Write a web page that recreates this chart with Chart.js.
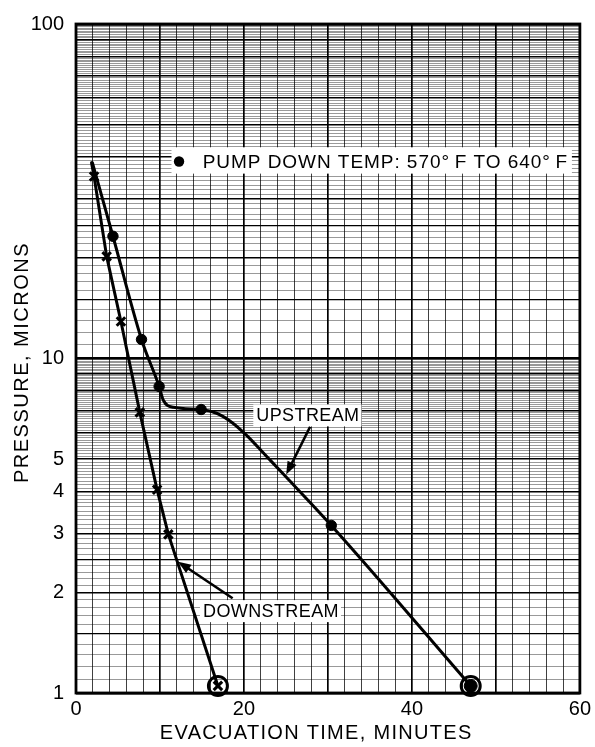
<!DOCTYPE html>
<html><head><meta charset="utf-8">
<script src="https://cdn.jsdelivr.net/npm/chart.js@4"></script>
<style>html,body{margin:0;padding:0;background:#fff;}#wrap{width:595px;height:747px;}</style>
</head><body><div id="wrap"><canvas id="c" width="595" height="747"></canvas></div>
<script>
// ---- data ----
const upstreamTraceX = [1.95, 4.4, 7.8, 9.9, 10.4, 11.6, 14.9, 16.75, 18.53, 20.44, 22.46, 24.63, 30.4, 47.0];
const upstreamTraceY = [38.5, 23.2, 11.4, 8.25, 7.5, 7.15, 7.04, 6.86, 6.45, 5.85, 5.17, 4.53, 3.17, 1.05];
const upstreamMarkX = [4.4, 7.8, 9.9, 14.9, 30.4, 47.0];
const upstreamMarkY = [23.2, 11.4, 8.25, 7.04, 3.17, 1.05];
const downstreamX = [1.85, 2.15, 3.65, 5.35, 7.6, 9.66, 11.0, 16.9];
const downstreamY = [38.5, 35.0, 20.2, 12.9, 6.9, 4.05, 2.98, 1.05];
const circledX = [16.9, 47.0];
const circledY = [1.05, 1.05];
const xTickLabels = [0, 20, 40, 60];
const yTickLabels = [1, 2, 3, 4, 5, 10, 100];
const legendText = 'PUMP DOWN TEMP: 570°\u2009F TO 640°\u2009F';
const xTitle = 'EVACUATION TIME, MINUTES';
const yTitle = 'PRESSURE, MICRONS';

// ---- graph paper rulings ----
const xGrid = []; for (let v = 0; v <= 60; v += 2) xGrid.push(v);
const yGrid = [];
for (let i = 10; i <= 100; i++) yGrid.push(i / 10);
for (let i = 11; i <= 100; i++) yGrid.push(i);

const FONT = '"Liberation Sans", Arial, Helvetica, sans-serif';
const near = (a, b) => Math.abs(a - b) < 1e-6;
const isInt = v => near(v, Math.round(v));
function yStyle(v) {
  if (near(v, 1) || near(v, 10) || near(v, 100)) return {c: '#000', w: 2.4};
  if (v <= 10) {
    if (isInt(v)) return {c: '#000', w: 1.5};
    if (near(v, 1.5) || near(v, 2.5)) return {c: '#000', w: 1.3};
    return {c: 'rgba(0,0,0,0.5)', w: 0.8};
  }
  if (isInt(v / 10)) return {c: '#000', w: 1.5};
  if (near(v, 15) || near(v, 25)) return {c: '#000', w: 1.3};
  return {c: 'rgba(0,0,0,0.5)', w: 0.8};
}
function xStyle(v) {
  if (isInt(v / 10)) return {c: '#000', w: 1.7};
  return {c: 'rgba(0,0,0,0.75)', w: 1};
}
const pts = (xs, ys) => xs.map((x, i) => ({x, y: ys[i]}));

function arrow(ctx, x1, y1, x2, y2) {
  const a = Math.atan2(y2 - y1, x2 - x1), L = 13, W = 5;
  ctx.beginPath(); ctx.moveTo(x1, y1);
  ctx.lineTo(x2 - L * 0.7 * Math.cos(a), y2 - L * 0.7 * Math.sin(a)); ctx.stroke();
  ctx.beginPath(); ctx.moveTo(x2, y2);
  ctx.lineTo(x2 - L * Math.cos(a) + W * Math.sin(a), y2 - L * Math.sin(a) - W * Math.cos(a));
  ctx.lineTo(x2 - L * Math.cos(a) - W * Math.sin(a), y2 - L * Math.sin(a) + W * Math.cos(a));
  ctx.closePath(); ctx.fill();
}

const labels = [['UPSTREAM', 21.47, 6.76], ['DOWNSTREAM', 15.12, 1.757]];

const paper = {
  id: 'paper',
  beforeDraw(chart) {
    const ctx = chart.ctx;
    ctx.save(); ctx.fillStyle = '#fff'; ctx.fillRect(0, 0, chart.width, chart.height); ctx.restore();
  },
  beforeDatasetsDraw(chart) {
    const ctx = chart.ctx, X = chart.scales.x, Y = chart.scales.y;
    ctx.save();
    ctx.fillStyle = '#fff';
    const bx1 = X.getPixelForValue(11.37), bx2 = X.getPixelForValue(59.05);
    const by1 = Y.getPixelForValue(42.8), by2 = Y.getPixelForValue(35.7);
    ctx.fillRect(bx1, by1, bx2 - bx1, by2 - by1);
    ctx.font = '18px ' + FONT; ctx.letterSpacing = '0.4px';
    labels.forEach(([t, x, y]) => {
      const px = X.getPixelForValue(x), py = Y.getPixelForValue(y);
      const w = ctx.measureText(t).width;
      ctx.fillRect(px - 3, py - 11, w + 5, 22);
    });
    ctx.restore();
  },
  afterDatasetsDraw(chart) {
    const ctx = chart.ctx, X = chart.scales.x, Y = chart.scales.y, a = chart.chartArea;
    ctx.save();
    ctx.fillStyle = '#000'; ctx.strokeStyle = '#000';
    ctx.textBaseline = 'middle'; ctx.textAlign = 'left';
    ctx.font = '19px ' + FONT; ctx.letterSpacing = '0.95px';
    ctx.beginPath();
    ctx.arc(X.getPixelForValue(12.27), Y.getPixelForValue(38.8), 5.2, 0, Math.PI * 2); ctx.fill();
    ctx.fillText(legendText, X.getPixelForValue(15.09), Y.getPixelForValue(38.8) + 1);
    ctx.font = '18px ' + FONT; ctx.letterSpacing = '0.4px';
    labels.forEach(([t, x, y]) => ctx.fillText(t, X.getPixelForValue(x), Y.getPixelForValue(y) + 1));
    ctx.lineWidth = 2.6;
    arrow(ctx, X.getPixelForValue(27.88), Y.getPixelForValue(6.25), X.getPixelForValue(25.03), Y.getPixelForValue(4.5));
    arrow(ctx, X.getPixelForValue(18.65), Y.getPixelForValue(1.92), X.getPixelForValue(12.15), Y.getPixelForValue(2.47));
    ctx.lineWidth = 2.8;
    ctx.strokeRect(a.left, a.top, a.right - a.left, a.bottom - a.top);
    ctx.restore();
  },
  afterDraw(chart) {
    const ctx = chart.ctx, X = chart.scales.x, a = chart.chartArea;
    ctx.save();
    ctx.fillStyle = '#000'; ctx.textBaseline = 'middle'; ctx.textAlign = 'center';
    ctx.font = '20px ' + FONT; ctx.letterSpacing = '1.3px';
    ctx.fillText(xTitle, X.getPixelForValue(28.6), 733);
    ctx.translate(22, (a.top + a.bottom) / 2 + 4);
    ctx.rotate(-Math.PI / 2);
    ctx.letterSpacing = '1.5px';
    ctx.fillText(yTitle, 0, 0);
    ctx.restore();
  }
};

new Chart(document.getElementById('c'), {
  type: 'line',
  data: {
    datasets: [
      { label: 'upstream', data: pts(upstreamTraceX, upstreamTraceY), borderColor: '#000', borderWidth: 3,
        pointRadius: 0, cubicInterpolationMode: 'monotone', fill: false },
      { label: 'upstream points', data: pts(upstreamMarkX, upstreamMarkY), showLine: false,
        pointStyle: 'circle', pointRadius: [5.2, 5.2, 5.2, 5.2, 5.2, 6.5], backgroundColor: '#000', borderColor: '#000', borderWidth: 1, clip: false },
      { label: 'downstream', data: pts(downstreamX, downstreamY), borderColor: '#000', borderWidth: 3, tension: 0,
        pointStyle: 'crossRot', pointRadius: ctx => ctx.dataIndex === 0 ? 0 : 6, pointBorderWidth: 3,
        pointBorderColor: '#000', backgroundColor: '#000', clip: false },
      { label: 'end points', data: pts(circledX, circledY), showLine: false, pointStyle: 'circle',
        pointRadius: 9.5, pointBorderWidth: 3, pointBorderColor: '#000', pointBackgroundColor: 'rgba(0,0,0,0)', clip: false }
    ]
  },
  options: {
    responsive: false, animation: false, devicePixelRatio: 1,
    layout: { padding: { left: 0, right: 14, top: 15, bottom: 0 } },
    plugins: { legend: { display: false }, tooltip: { enabled: false } },
    elements: { line: { borderCapStyle: 'round', borderJoinStyle: 'round' } },
    scales: {
      x: {
        type: 'linear', min: 0, max: 60,
        afterBuildTicks: s => { s.ticks = xGrid.map(v => ({value: v})); },
        afterFit: s => { s.height = 54; },
        ticks: { autoSkip: false, maxRotation: 0, padding: 4, color: '#000', font: { family: FONT, size: 20 },
          callback: v => xTickLabels.some(t => near(t, v)) ? String(v) : '' },
        grid: { drawTicks: false, color: c => xStyle(c.tick.value).c, lineWidth: c => xStyle(c.tick.value).w },
        border: { display: false },
        title: { display: false }
      },
      y: {
        type: 'logarithmic', min: 1, max: 100,
        afterBuildTicks: s => { s.ticks = yGrid.map(v => ({value: v})); },
        afterFit: s => { s.width = 76; },
        ticks: { autoSkip: false, padding: 12, color: '#000', font: { family: FONT, size: 20 },
          callback: v => yTickLabels.some(t => near(t, v)) ? String(Math.round(v)) : '' },
        grid: { drawTicks: false, color: c => yStyle(c.tick.value).c, lineWidth: c => yStyle(c.tick.value).w },
        border: { display: false },
        title: { display: false }
      }
    }
  },
  plugins: [paper]
});
</script></body></html>
